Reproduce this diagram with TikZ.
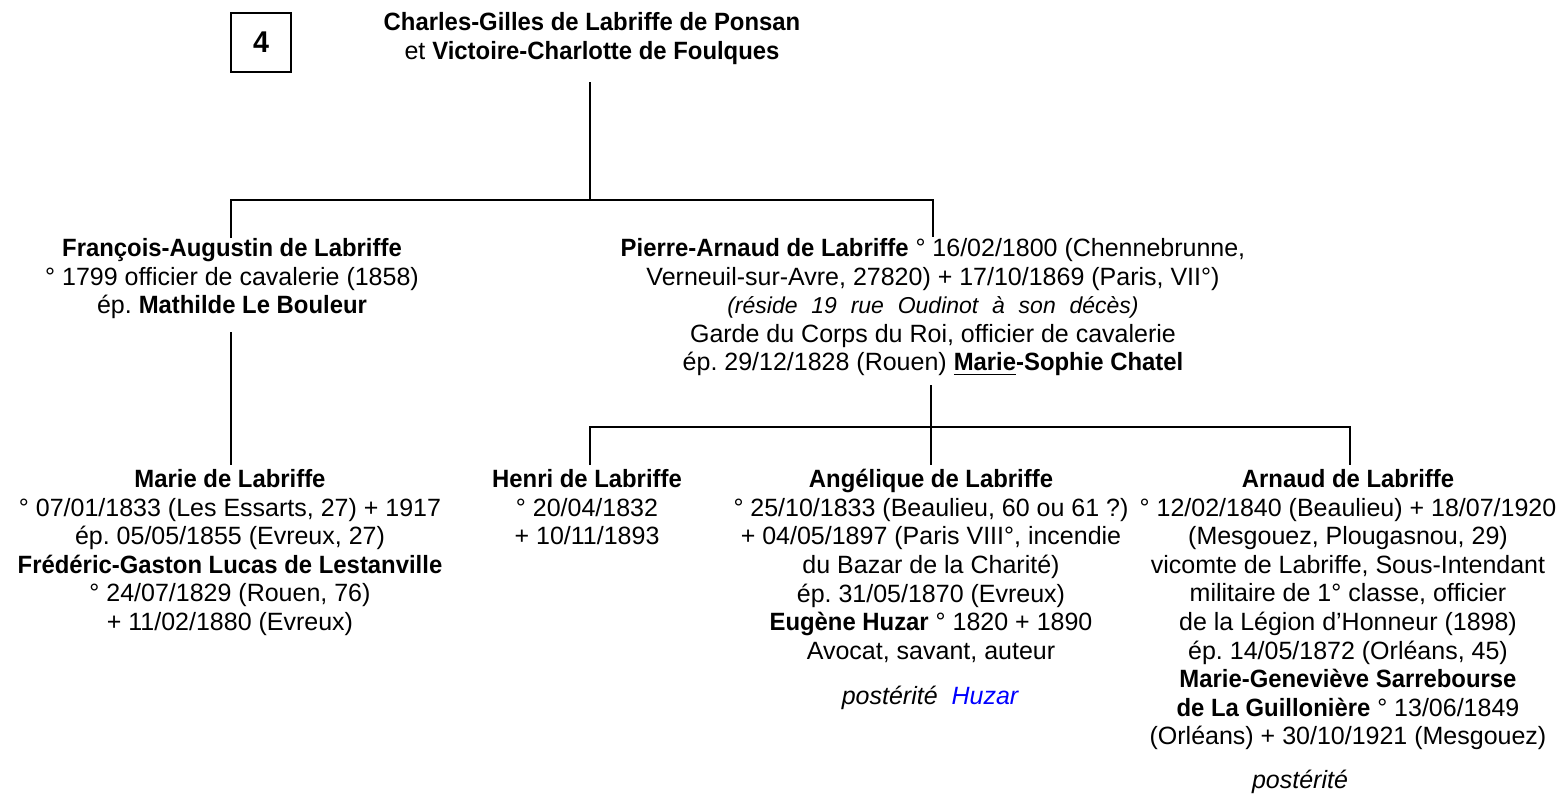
\documentclass[tikz,border=0pt]{standalone}
\usepackage{fontspec}
\setmainfont{Liberation Sans}[BoldFeatures={FakeStretch=0.955}]
\begin{document}
\frenchspacing
\begin{tikzpicture}[x=0.5pt,y=-0.5pt,
  person/.style={anchor=north, inner sep=0pt, align=center, font=\fontsize{12.5}{14.3}\selectfont},
  link/.style={line width=1pt},
  numbox/.style={draw, line width=0.6pt, minimum width=30pt, minimum height=29.5pt, inner sep=0pt, font=\fontsize{15}{18}\selectfont\bfseries}]
\useasboundingbox (0,0) rectangle (1558,794);
\node[numbox] (num) at (261,42.5) {4};
\node[person] (top) at (592,12) {\textbf{Charles-Gilles de Labriffe de Ponsan}\\ et \textbf{Victoire-Charlotte de Foulques}};
\node[person] (fa) at (232,238) {\textbf{François-Augustin de Labriffe}\\ ° 1799 officier de cavalerie (1858)\\ ép. \textbf{Mathilde Le Bouleur}};
\node[person] (pa) at (933,238) {\textbf{Pierre-Arnaud de Labriffe} ° 16/02/1800 (Chennebrunne,\\ Verneuil-sur-Avre, 27820) + 17/10/1869 (Paris, VII°)\\ {\itshape\fontsize{11.5}{14.3}\selectfont\spaceskip=0.6em (réside 19 rue Oudinot à son décès)}\\ Garde du Corps du Roi, officier de cavalerie\\ ép. 29/12/1828 (Rouen) \textbf{\underline{Marie}-Sophie Chatel}};
\node[person] (ma) at (230,469) {\textbf{Marie de Labriffe}\\ ° 07/01/1833 (Les Essarts, 27) + 1917\\ ép. 05/05/1855 (Evreux, 27)\\ \textbf{Frédéric-Gaston Lucas de Lestanville}\\ ° 24/07/1829 (Rouen, 76)\\ + 11/02/1880 (Evreux)};
\node[person] (he) at (587,469) {\textbf{Henri de Labriffe}\\ ° 20/04/1832\\ + 10/11/1893};
\node[person] (an) at (931,469) {\textbf{Angélique de Labriffe}\\ ° 25/10/1833 (Beaulieu, 60 ou 61 ?)\\ + 04/05/1897 (Paris VIII°, incendie\\ du Bazar de la Charité)\\ ép. 31/05/1870 (Evreux)\\ \textbf{Eugène Huzar} ° 1820 + 1890\\ Avocat, savant, auteur};
\node[person] (anp) at (930,686) {\itshape postérité\ \ \textcolor{blue}{Huzar}};
\node[person] (ar) at (1348,469) {\textbf{Arnaud de Labriffe}\\ ° 12/02/1840 (Beaulieu) + 18/07/1920\\ (Mesgouez, Plougasnou, 29)\\ vicomte de Labriffe, Sous-Intendant\\ militaire de 1° classe, officier\\ de la Légion d’Honneur (1898)\\ ép. 14/05/1872 (Orléans, 45)\\ \textbf{Marie-Geneviève Sarrebourse}\\ \textbf{de La Guillonière} ° 13/06/1849\\ (Orléans) + 30/10/1921 (Mesgouez)};
\node[person] (arp) at (1300,770) {\itshape postérité};
% junctions
\coordinate (t0) at (590,82);
\coordinate (t1) at (590,200);
\coordinate (faTop) at (231,238);
\coordinate (paTop) at (933,237);
\coordinate (faBot) at (231,332);
\coordinate (maTop) at (231,465);
\coordinate (p0) at (931,385);
\coordinate (p1) at (931,427);
\coordinate (heTop) at (590,465);
\coordinate (anTop) at (931,465);
\coordinate (arTop) at (1350,465);
\draw[link] (t0) -- (t1);
\draw[link] (faTop) -- (faTop|-t1) -- (paTop|-t1) -- (paTop);
\draw[link] (faBot) -- (maTop);
\draw[link] (p0) -- (anTop);
\draw[link] (heTop) -- (heTop|-p1) -- (arTop|-p1) -- (arTop);
\end{tikzpicture}
\end{document}
